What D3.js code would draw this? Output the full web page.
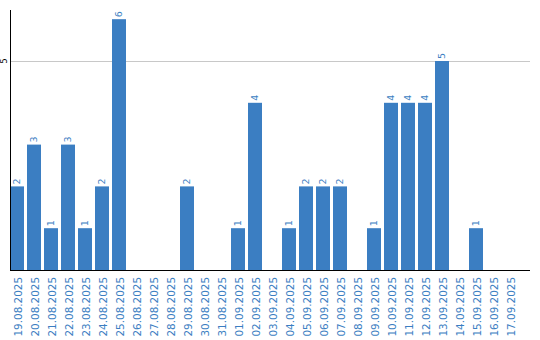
<!DOCTYPE html>
<html>
<head>
<meta charset="utf-8">
<script src="https://cdn.jsdelivr.net/npm/d3@7"></script>
<style>
  body { margin: 0; background: #fff; }
  text { font-family: "DejaVu Sans", Verdana, sans-serif; }
</style>
</head>
<body>
<div id="chart"></div>
<script>
const width = 540;
const height = 340;

const dates = ["19.08.2025", "20.08.2025", "21.08.2025", "22.08.2025", "23.08.2025", "24.08.2025",
    "25.08.2025", "26.08.2025", "27.08.2025", "28.08.2025", "29.08.2025", "30.08.2025", "31.08.2025",
    "01.09.2025", "02.09.2025", "03.09.2025", "04.09.2025", "05.09.2025", "06.09.2025", "07.09.2025",
    "08.09.2025", "09.09.2025", "10.09.2025", "11.09.2025", "12.09.2025", "13.09.2025", "14.09.2025",
    "15.09.2025", "16.09.2025", "17.09.2025"];
const counts = [2, 3, 1, 3, 1, 2, 6, 0, 0, 0, 2, 0, 0, 1, 4, 0, 1, 2, 2, 2, 0, 1, 4, 4, 4, 5, 0, 1, 0, 0];
const yTicks = [5];

const blue = "#3b7ec2";

const rows = dates.map((d, i) => ({ date: d, value: counts[i] }));

const svg = d3.select("#chart")
    .append("svg")
    .attr("width", width)
    .attr("height", height);

const x = d3.scaleBand()
    .domain(dates)
    .range([10, 517])
    .paddingInner(3 / 17)
    .paddingOuter(0)
    .align(0);

const y = d3.scaleLinear()
    .domain([0, 6.22])
    .range([270, 10]);

// grid line
svg.selectAll("line.grid")
    .data(yTicks)
    .enter()
    .append("line")
    .attr("class", "grid")
    .attr("x1", 10)
    .attr("x2", 530)
    .attr("y1", d => Math.round(y(d)) + 0.5)
    .attr("y2", d => Math.round(y(d)) + 0.5)
    .attr("stroke", "#c8c8c8");

// y tick labels
svg.selectAll("text.ytick")
    .data(yTicks)
    .enter()
    .append("text")
    .attr("class", "ytick")
    .attr("transform", d => `translate(7,${y(d)}) rotate(-90)`)
    .attr("text-anchor", "middle")
    .attr("font-size", 8)
    .attr("fill", "#000")
    .text(d => d);

// bars
svg.selectAll("rect.bar")
    .data(rows)
    .enter()
    .append("rect")
    .attr("class", "bar")
    .attr("x", d => x(d.date))
    .attr("y", d => y(d.value))
    .attr("width", x.bandwidth())
    .attr("height", d => y(0) - y(d.value))
    .attr("fill", blue);

// value labels (only non-zero)
svg.selectAll("text.val")
    .data(rows.filter(d => d.value > 0))
    .enter()
    .append("text")
    .attr("class", "val")
    .attr("transform", d => `translate(${x(d.date) + x.bandwidth() / 2},${y(d.value) - 2}) rotate(-90)`)
    .attr("dy", "0.35em")
    .attr("font-size", 9.5)
    .attr("fill", blue)
    .text(d => d.value);

// axes lines
svg.append("line")
    .attr("x1", 10.5).attr("x2", 10.5)
    .attr("y1", 10).attr("y2", 270)
    .attr("stroke", "#000");
svg.append("line")
    .attr("x1", 10).attr("x2", 530)
    .attr("y1", 270.5).attr("y2", 270.5)
    .attr("stroke", "#000");

// x labels
svg.selectAll("text.xlab")
    .data(dates)
    .enter()
    .append("text")
    .attr("class", "xlab")
    .attr("transform", d => `translate(${x(d) + x.bandwidth() / 2 + 1},277) rotate(-90)`)
    .attr("text-anchor", "end")
    .attr("dy", "0.35em")
    .attr("font-size", 10.4)
    .attr("fill", blue)
    .text(d => d);
</script>
</body>
</html>
